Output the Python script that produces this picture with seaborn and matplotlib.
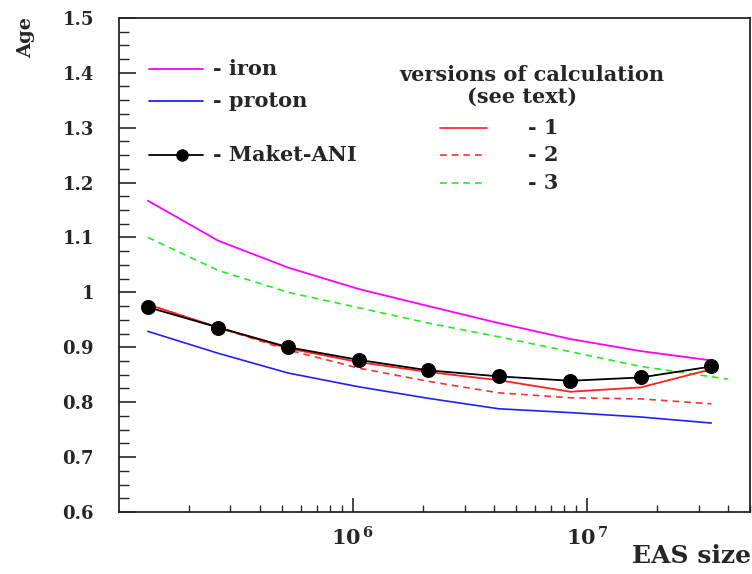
import numpy as np
import pandas as pd
import matplotlib
matplotlib.use('Agg')
import matplotlib.pyplot as plt
from matplotlib.ticker import MultipleLocator, LogLocator
import seaborn as sns

sns.set_style('ticks')
plt.rcParams['font.family'] = ['DejaVu Serif']
plt.rcParams['font.weight'] = 'bold'
plt.rcParams['mathtext.fontset'] = 'dejavuserif'
plt.rcParams['mathtext.default'] = 'bf'

# EAS size points (shared by the curves)
eas_size = [1.33e5, 2.66e5, 5.3e5, 1.06e6, 2.1e6, 4.2e6, 8.5e6, 1.7e7, 3.4e7]
eas_size_v3 = [1.33e5, 2.66e5, 5.3e5, 1.06e6, 2.1e6, 4.2e6, 8.5e6, 1.7e7, 4.0e7]

age_iron = [1.167, 1.094, 1.045, 1.006, 0.975, 0.944, 0.915, 0.893, 0.876]
age_proton = [0.929, 0.889, 0.853, 0.828, 0.807, 0.788, 0.781, 0.773, 0.762]
age_maket = [0.973, 0.936, 0.900, 0.877, 0.858, 0.847, 0.839, 0.845, 0.865]
age_v1 = [0.978, 0.936, 0.898, 0.873, 0.855, 0.840, 0.819, 0.827, 0.860]
age_v2 = [0.978, 0.936, 0.895, 0.862, 0.838, 0.817, 0.808, 0.806, 0.797]
age_v3 = [1.100, 1.040, 1.000, 0.972, 0.944, 0.919, 0.892, 0.865, 0.842]

y_ticks = [0.6, 0.7, 0.8, 0.9, 1.0, 1.1, 1.2, 1.3, 1.4, 1.5]
y_labels = ['0.6', '0.7', '0.8', '0.9', '1', '1.1', '1.2', '1.3', '1.4', '1.5']
x_ticks = [1e6, 1e7]
x_labels = ['$10^{\\,6}$', '$10^{\\,7}$']

fig = plt.figure(figsize=(7.52, 5.74), dpi=100)
ax = fig.add_axes([0.158, 0.108, 0.840, 0.861])

sns.lineplot(ax=ax, x=eas_size, y=age_iron, color='#ff00ff', lw=1.3, sort=False)
sns.lineplot(ax=ax, x=eas_size_v3, y=age_v3, color='#22ee22', lw=1.2, sort=False, linestyle=(0, (4, 3)))
sns.lineplot(ax=ax, x=eas_size, y=age_v2, color='#ff3030', lw=1.2, sort=False, linestyle=(0, (4, 3)))
sns.lineplot(ax=ax, x=eas_size, y=age_v1, color='#ff2020', lw=1.3, sort=False)
sns.lineplot(ax=ax, x=eas_size, y=age_proton, color='#2020ff', lw=1.2, sort=False)
sns.lineplot(ax=ax, x=eas_size, y=age_maket, color='black', lw=1.3, sort=False,
             marker='o', markersize=10, markeredgecolor='black')

ax.set_xscale('log')
ax.set_xlim(1e5, 5e7)
ax.set_ylim(0.6, 1.5)
ax.yaxis.set_minor_locator(MultipleLocator(0.025))
ax.set_yticks(y_ticks)
ax.set_yticklabels(y_labels)
ax.set_xticks(x_ticks)
ax.set_xticklabels(x_labels)
ax.xaxis.set_minor_locator(LogLocator(base=10, subs=np.arange(2, 10), numticks=20))
ax.tick_params(axis='y', which='major', direction='in', length=12, width=1.2,
               labelsize=13, pad=18)
ax.tick_params(axis='y', which='minor', direction='in', length=7, width=1.0)
ax.tick_params(axis='x', which='major', direction='in', length=10, width=1.2,
               labelsize=15, pad=10)
ax.tick_params(axis='x', which='minor', direction='in', length=5, width=1.0)
for s in ax.spines.values():
    s.set_linewidth(1.3)
ax.set_xlabel('')
ax.set_ylabel('')
fig.text(0.035, 0.97, 'Age', rotation=90, ha='center', va='top', fontsize=14, fontweight='bold')
fig.text(0.999, 0.01, 'EAS size', ha='right', va='bottom', fontsize=18, fontweight='bold')

# legend (drawn as in the original figure)
def leg_line(x0, x1, y, **kw):
    ax.plot([x0, x1], [y, y], transform=fig.transFigure, clip_on=False, **kw)

def fx(px):
    return px / 752

def fy(py):
    return 1 - py / 574

fs = 15
leg_line(fx(149), fx(203), fy(69), color='#ff00ff', lw=1.3)
fig.text(fx(213), fy(69), '- iron', va='center', fontsize=fs, fontweight='bold')
leg_line(fx(149), fx(203), fy(101), color='#2020ff', lw=1.3)
fig.text(fx(213), fy(101), '- proton', va='center', fontsize=fs, fontweight='bold')
leg_line(fx(149), fx(203), fy(155), color='black', lw=1.3)
ax.plot([fx(182)], [fy(155)], 'o', color='black', ms=8, transform=fig.transFigure, clip_on=False)
fig.text(fx(213), fy(155), '- Maket-ANI', va='center', fontsize=fs, fontweight='bold')

fig.text(fx(532), fy(75), 'versions of calculation', ha='center', va='center', fontsize=fs, fontweight='bold')
fig.text(fx(522), fy(97), '(see text)', ha='center', va='center', fontsize=fs, fontweight='bold')
leg_line(fx(440), fx(487), fy(128), color='#ff2020', lw=1.2)
fig.text(fx(528), fy(128), '- 1', va='center', fontsize=fs, fontweight='bold')
leg_line(fx(440), fx(487), fy(155), color='#ff3030', lw=1.2, linestyle=(0, (4, 3)))
fig.text(fx(528), fy(155), '- 2', va='center', fontsize=fs, fontweight='bold')
leg_line(fx(440), fx(487), fy(183), color='#22ee22', lw=1.2, linestyle=(0, (4, 3)))
fig.text(fx(528), fy(183), '- 3', va='center', fontsize=fs, fontweight='bold')

fig.savefig('out.png', dpi=100)
